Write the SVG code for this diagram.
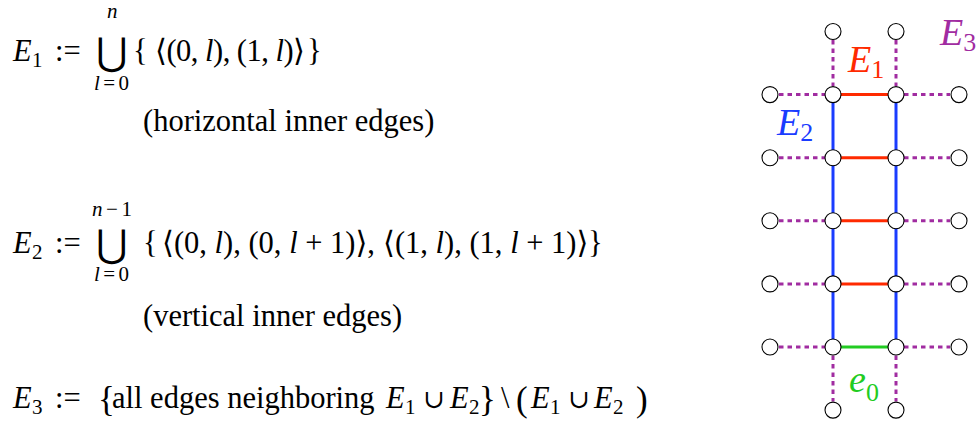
<svg xmlns="http://www.w3.org/2000/svg" width="978" height="423" viewBox="0 0 978 423">
<style>
text{font-family:"Liberation Serif","DejaVu Serif",serif;fill:#000}
.m{font-size:30.5px}
.s{font-size:21px}
.i{font-style:italic}
.op{font-family:"DejaVu Sans","Liberation Serif",serif;font-size:38px}
.cup{font-size:26px}
.big{font-size:35px}
.nd{fill:#fff;stroke:#000;stroke-width:1.1}
.red{stroke:#ff2a00;stroke-width:3;fill:none}
.blue{stroke:#1a3cff;stroke-width:3;fill:none}
.green{stroke:#22cc22;stroke-width:3;fill:none}
.pur{stroke:#a12ca1;stroke-width:3;fill:none;stroke-dasharray:4.5 4}
.lab{font-size:38px;font-style:italic}
.lsub{font-size:26px;font-style:normal}
.cr{fill:#ff2a00}
.cb{fill:#1a3cff}
.cp{fill:#a12ca1}
.cg{fill:#22cc22}
</style>
<rect width="978" height="423" fill="#fff"/>
<g id="formulas">
<!-- line 1 -->
<text class="m i" x="13" y="61">E</text><text class="s" x="32" y="67">1</text>
<text class="m" x="55" y="61">:=</text>
<text class="s i" x="107" y="18">n</text>
<text class="op" x="96" y="65">⋃</text>
<text class="s" x="94" y="90" textLength="35" lengthAdjust="spacing"><tspan class="i">l</tspan>=0</text>
<text class="m" x="133" y="61">{</text>
<text class="m" x="155" y="61" textLength="150" lengthAdjust="spacing">⟨(0, <tspan class="i">l</tspan>), (1, <tspan class="i">l</tspan>)⟩</text>
<text class="m" x="307" y="61">}</text>
<text class="m" x="143" y="131">(horizontal inner edges)</text>
<!-- line 2 -->
<text class="m i" x="13" y="253">E</text><text class="s" x="32" y="259">2</text>
<text class="m" x="55" y="253">:=</text>
<text class="s" x="92" y="216" textLength="40" lengthAdjust="spacing"><tspan class="i">n</tspan>−1</text>
<text class="op" x="96" y="257">⋃</text>
<text class="s" x="94" y="281" textLength="35" lengthAdjust="spacing"><tspan class="i">l</tspan>=0</text>
<text class="m" x="143" y="253">{</text>
<text class="m" x="162" y="253">⟨(0, <tspan class="i">l</tspan>), (0, <tspan class="i">l</tspan> + 1)⟩,</text>
<text class="m" x="383" y="253">⟨(1, <tspan class="i">l</tspan>), (1, <tspan class="i">l</tspan> + 1)⟩</text>
<text class="m" x="588" y="253">}</text>
<text class="m" x="143" y="326">(vertical inner edges)</text>
<!-- line 3 -->
<text class="m i" x="13" y="408">E</text><text class="s" x="32" y="414">3</text>
<text class="m" x="55" y="408">:=</text>
<text class="big" x="98" y="411">{</text>
<text class="m" x="112" y="408">all edges neighboring</text>
<text class="m i" x="386" y="408">E</text><text class="s" x="405" y="414">1</text>
<text class="m cup" x="423" y="408">∪</text>
<text class="m i" x="450" y="408">E</text><text class="s" x="469" y="414">2</text>
<text class="big" x="479" y="411">}</text>
<text class="m" x="501" y="408">\</text>
<text class="big" x="516" y="411">(</text>
<text class="m i" x="531" y="408">E</text><text class="s" x="550" y="414">1</text>
<text class="m cup" x="568" y="408">∪</text>
<text class="m i" x="594" y="408">E</text><text class="s" x="613" y="414">2</text>
<text class="big" x="636" y="411">)</text>
</g>
<g id="connectors">
<!-- E1 red horizontals -->
<line class="red" x1="833" y1="94.6" x2="896" y2="94.6"/>
<line class="red" x1="833" y1="157.7" x2="896" y2="157.7"/>
<line class="red" x1="833" y1="220.8" x2="896" y2="220.8"/>
<line class="red" x1="833" y1="283.9" x2="896" y2="283.9"/>
<!-- e0 green -->
<line class="green" x1="833" y1="347" x2="896" y2="347"/>
<!-- E2 blue verticals -->
<line class="blue" x1="833" y1="94.6" x2="833" y2="347"/>
<line class="blue" x1="896" y1="94.6" x2="896" y2="347"/>
<!-- E3 purple dotted -->
<line class="pur" x1="779" y1="94.6" x2="825" y2="94.6"/>
<line class="pur" x1="904" y1="94.6" x2="950" y2="94.6"/>
<line class="pur" x1="779" y1="157.7" x2="825" y2="157.7"/>
<line class="pur" x1="904" y1="157.7" x2="950" y2="157.7"/>
<line class="pur" x1="779" y1="220.8" x2="825" y2="220.8"/>
<line class="pur" x1="904" y1="220.8" x2="950" y2="220.8"/>
<line class="pur" x1="779" y1="283.9" x2="825" y2="283.9"/>
<line class="pur" x1="904" y1="283.9" x2="950" y2="283.9"/>
<line class="pur" x1="779" y1="347" x2="825" y2="347"/>
<line class="pur" x1="904" y1="347" x2="950" y2="347"/>
<line class="pur" x1="833" y1="40" x2="833" y2="86"/>
<line class="pur" x1="896" y1="40" x2="896" y2="86"/>
<line class="pur" x1="833" y1="355.5" x2="833" y2="401.5"/>
<line class="pur" x1="896" y1="355.5" x2="896" y2="401.5"/>
</g>
<g id="nodes">
<g id="t0"><circle class="nd" cx="833" cy="31.5" r="8"/></g>
<g id="t1"><circle class="nd" cx="896" cy="31.5" r="8"/></g>
<g id="r1c0"><circle class="nd" cx="770" cy="94.6" r="8"/></g>
<g id="r1c1"><circle class="nd" cx="833" cy="94.6" r="8"/></g>
<g id="r1c2"><circle class="nd" cx="896" cy="94.6" r="8"/></g>
<g id="r1c3"><circle class="nd" cx="959" cy="94.6" r="8"/></g>
<g id="r2c0"><circle class="nd" cx="770" cy="157.7" r="8"/></g>
<g id="r2c1"><circle class="nd" cx="833" cy="157.7" r="8"/></g>
<g id="r2c2"><circle class="nd" cx="896" cy="157.7" r="8"/></g>
<g id="r2c3"><circle class="nd" cx="959" cy="157.7" r="8"/></g>
<g id="r3c0"><circle class="nd" cx="770" cy="220.8" r="8"/></g>
<g id="r3c1"><circle class="nd" cx="833" cy="220.8" r="8"/></g>
<g id="r3c2"><circle class="nd" cx="896" cy="220.8" r="8"/></g>
<g id="r3c3"><circle class="nd" cx="959" cy="220.8" r="8"/></g>
<g id="r4c0"><circle class="nd" cx="770" cy="283.9" r="8"/></g>
<g id="r4c1"><circle class="nd" cx="833" cy="283.9" r="8"/></g>
<g id="r4c2"><circle class="nd" cx="896" cy="283.9" r="8"/></g>
<g id="r4c3"><circle class="nd" cx="959" cy="283.9" r="8"/></g>
<g id="r5c0"><circle class="nd" cx="770" cy="347" r="8"/></g>
<g id="r5c1"><circle class="nd" cx="833" cy="347" r="8"/></g>
<g id="r5c2"><circle class="nd" cx="896" cy="347" r="8"/></g>
<g id="r5c3"><circle class="nd" cx="959" cy="347" r="8"/></g>
<g id="b0"><circle class="nd" cx="833" cy="410.1" r="8"/></g>
<g id="b1"><circle class="nd" cx="896" cy="410.1" r="8"/></g>
</g>
<g id="labels">
<text class="lab cr" x="848" y="72">E<tspan class="lsub cr" dy="6">1</tspan></text>
<text class="lab cb" x="777" y="135">E<tspan class="lsub cb" dy="6">2</tspan></text>
<text class="lab cp" x="940" y="45">E<tspan class="lsub cp" dy="6">3</tspan></text>
<text class="lab cg" x="849" y="392">e<tspan class="lsub cg" dy="9">0</tspan></text>
</g>
</svg>
